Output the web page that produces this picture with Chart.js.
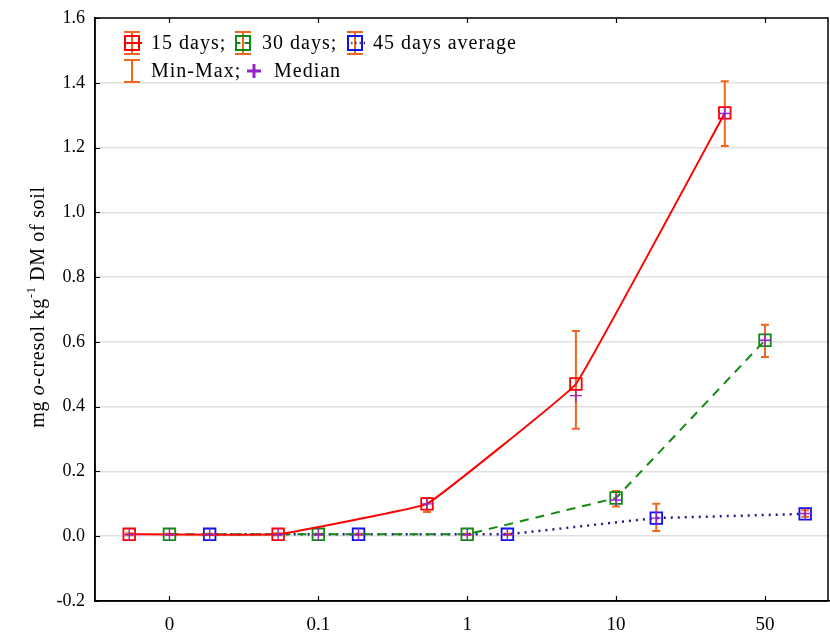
<!DOCTYPE html>
<html>
<head>
<meta charset="utf-8">
<script src="https://cdn.jsdelivr.net/npm/chart.js@4"></script>
<style>
  body { margin: 0; background: #fff; }
  canvas { display: block; }
</style>
</head>
<body>
<canvas id="myChart" width="830" height="637"></canvas>
<script>
const graph = document.querySelector('#myChart');

// dose categories on the x axis
const categories = ['0', '0.1', '1', '10', '50'];
const yTicks = [-0.2, 0.0, 0.2, 0.4, 0.6, 0.8, 1.0, 1.2, 1.4, 1.6];

// 15 days
const mean15 = [0.006, 0.006, 0.100, 0.470, 1.307];
const min15  = [0.003, 0.003, 0.075, 0.332, 1.205];
const max15  = [0.009, 0.009, 0.118, 0.634, 1.405];
const med15  = [0.005, 0.005, 0.100, 0.434, 1.305];

// 30 days
const mean30 = [0.006, 0.006, 0.006, 0.118, 0.605];
const min30  = [0.004, 0.004, 0.004, 0.092, 0.553];
const max30  = [0.008, 0.008, 0.008, 0.140, 0.653];
const med30  = [0.005, 0.005, 0.005, 0.112, 0.605];

// 45 days average
const mean45 = [0.006, 0.006, 0.006, 0.056, 0.069];
const min45  = [0.004, 0.004, 0.004, 0.016, 0.060];
const max45  = [0.008, 0.008, 0.008, 0.100, 0.080];
const med45  = [0.005, 0.005, 0.005, 0.056, 0.070];

const series = [
    { label: '15 days', mean: mean15, min: min15, max: max15, med: med15, color: '#ff0000', mark: '#ff0000', dash: [], width: 2, tension: 0.06, off: -0.27 },
    { label: '30 days', mean: mean30, min: min30, max: max30, med: med30, color: '#108a10', mark: '#108a10', dash: [9, 7], width: 2, tension: 0, off: 0 },
    { label: '45 days average', mean: mean45, min: min45, max: max45, med: med45, color: '#202080', mark: '#1010f0', dash: [2, 5], width: 2.5, tension: 0, off: 0.27 }
];

const ERR = '#f0661a';
const MED = '#9424c8';
const FONT = '"Liberation Serif", "Times New Roman", serif';

const pts = (arr, off) => arr.map((v, i) => ({ x: i + off, y: v }));

const datasets = [];
series.forEach(s => {
    datasets.push({
        label: s.label + ' median',
        data: pts(s.med, s.off),
        showLine: false,
        pointStyle: 'cross',
        pointRadius: 6,
        pointBorderWidth: 1.4,
        pointBorderColor: MED,
        pointHoverRadius: 6
    });
});
series.forEach(s => {
    datasets.push({
        label: s.label,
        data: pts(s.mean, s.off),
        borderColor: s.color,
        borderWidth: s.width,
        borderDash: s.dash,
        tension: s.tension,
        fill: false,
        pointStyle: 'rect',
        pointRadius: 8.2,
        pointBorderWidth: 1.8,
        pointBorderColor: s.mark,
        pointBackgroundColor: 'rgba(255,255,255,0)',
        pointHoverRadius: 8.2
    });
});

// min-max whiskers
const errorBars = {
    id: 'errorBars',
    beforeDatasetsDraw(chart) {
        const { ctx, scales: { x, y } } = chart;
        ctx.save();
        ctx.strokeStyle = ERR;
        ctx.lineWidth = 2;
        series.forEach(s => {
            s.mean.forEach((v, i) => {
                const px = x.getPixelForValue(i + s.off);
                const y1 = y.getPixelForValue(s.min[i]);
                const y2 = y.getPixelForValue(s.max[i]);
                ctx.beginPath();
                ctx.moveTo(px, y1); ctx.lineTo(px, y2);
                ctx.moveTo(px - 4, y1); ctx.lineTo(px + 4, y1);
                ctx.moveTo(px - 4, y2); ctx.lineTo(px + 4, y2);
                ctx.stroke();
            });
        });
        ctx.restore();
    }
};

// box around plot + inward tick marks
const frame = {
    id: 'frame',
    afterDatasetsDraw(chart) {
        const { ctx, chartArea: a, scales: { x, y } } = chart;
        ctx.save();
        ctx.strokeStyle = '#000';
        ctx.lineWidth = 1.5;
        ctx.beginPath();
        ctx.rect(a.left, a.top, a.right - a.left - 1, a.bottom - a.top);
        ctx.stroke();
        ctx.lineWidth = 1.2;
        ctx.beginPath();
        categories.forEach((c, i) => {
            const px = Math.round(x.getPixelForValue(i)) + 0.5;
            ctx.moveTo(px, a.bottom); ctx.lineTo(px, a.bottom - 5);
            ctx.moveTo(px, a.top); ctx.lineTo(px, a.top + 5);
        });
        yTicks.forEach(v => {
            const py = Math.round(y.getPixelForValue(v)) + 0.5;
            ctx.moveTo(a.left, py); ctx.lineTo(a.left + 5, py);
        });
        ctx.stroke();
        ctx.restore();
    }
};

// y title with italic o and superscript -1
const yTitle = {
    id: 'yTitle',
    afterDraw(chart) {
        const { ctx } = chart;
        const parts = [
            { t: 'mg ', f: '20px ' + FONT, dy: 0 },
            { t: 'o', f: 'italic 20px ' + FONT, dy: 0 },
            { t: '-cresol kg', f: '20px ' + FONT, dy: 0 },
            { t: '-1', f: '12px ' + FONT, dy: -9 },
            { t: ' DM of soil', f: '20px ' + FONT, dy: 0 }
        ];
        ctx.save();
        ctx.letterSpacing = '0.7px';
        let total = 0;
        parts.forEach(p => { ctx.font = p.f; total += ctx.measureText(p.t).width; });
        ctx.translate(44, 307);
        ctx.rotate(-Math.PI / 2);
        ctx.fillStyle = '#000';
        ctx.textBaseline = 'alphabetic';
        let cx = -total / 2;
        parts.forEach(p => {
            ctx.font = p.f;
            ctx.fillText(p.t, cx, p.dy);
            cx += ctx.measureText(p.t).width;
        });
        ctx.restore();
    }
};

// legend drawn inside the plot
const legendBox = {
    id: 'legendBox',
    afterDraw(chart) {
        const { ctx } = chart;
        const whisker = (cx, cy) => {
            ctx.strokeStyle = ERR;
            ctx.lineWidth = 2;
            ctx.setLineDash([]);
            ctx.beginPath();
            ctx.moveTo(cx, cy - 11); ctx.lineTo(cx, cy + 11);
            ctx.moveTo(cx - 8, cy - 11); ctx.lineTo(cx + 8, cy - 11);
            ctx.moveTo(cx - 8, cy + 11); ctx.lineTo(cx + 8, cy + 11);
            ctx.stroke();
        };
        const text = (t, x0, cy) => {
            ctx.fillStyle = '#000';
            ctx.font = '20px ' + FONT;
            ctx.letterSpacing = '1px';
            ctx.textBaseline = 'middle';
            ctx.fillText(t, x0, cy + 1);
        };
        ctx.save();
        const row1 = 43, row2 = 71;
        const mx = [132, 243, 355];
        const tx = [151, 262, 373];
        const names = ['15 days;', '30 days;', '45 days average'];
        series.forEach((s, k) => {
            whisker(mx[k], row1);
            ctx.strokeStyle = s.color;
            ctx.lineWidth = s.width;
            ctx.setLineDash(s.dash.length ? s.dash.map(d => d * 0.6) : []);
            ctx.beginPath();
            ctx.moveTo(mx[k] - 8, row1); ctx.lineTo(mx[k] + 10, row1);
            ctx.stroke();
            ctx.setLineDash([]);
            ctx.lineWidth = 2;
            ctx.strokeStyle = s.mark;
            ctx.strokeRect(mx[k] - 7, row1 - 7, 14, 14);
            text(names[k], tx[k], row1);
        });
        whisker(132, row2);
        text('Min-Max;', 151, row2);
        ctx.strokeStyle = MED;
        ctx.lineWidth = 3;
        ctx.beginPath();
        ctx.moveTo(254, row2 - 7); ctx.lineTo(254, row2 + 7);
        ctx.moveTo(247, row2); ctx.lineTo(261, row2);
        ctx.stroke();
        text('Median', 274, row2);
        ctx.restore();
    }
};

const chart = new Chart(graph, {
    type: 'line',
    data: { datasets },
    options: {
        responsive: false,
        animation: false,
        events: [],
        layout: { autoPadding: false, padding: { top: 18, right: 1, left: 0, bottom: 0 } },
        plugins: {
            legend: { display: false },
            tooltip: { enabled: false }
        },
        scales: {
            x: {
                type: 'linear',
                min: -0.5,
                max: 4.43,
                afterBuildTicks: s => { s.ticks = categories.map((c, i) => ({ value: i })); },
                afterFit: s => { s.height = 36; s.paddingLeft = 0; s.paddingRight = 0; },
                grid: { display: false, drawTicks: false },
                border: { display: true, color: '#000', width: 1.5 },
                ticks: {
                    autoSkip: false,
                    maxRotation: 0,
                    padding: 13,
                    color: '#000',
                    font: { family: FONT, size: 19 },
                    callback: v => categories[v]
                }
            },
            y: {
                min: -0.2,
                max: 1.6,
                afterBuildTicks: s => { s.ticks = yTicks.map(v => ({ value: v })); },
                afterFit: s => { s.width = 95; s.paddingTop = 0; s.paddingBottom = 0; },
                grid: { color: '#e0e0e0', lineWidth: 1.5, drawTicks: false },
                border: { display: true, color: '#000', width: 1.5 },
                ticks: {
                    padding: 10,
                    color: '#000',
                    font: { family: FONT, size: 18 },
                    callback: v => v.toFixed(1)
                }
            }
        }
    },
    plugins: [errorBars, frame, yTitle, legendBox]
});
</script>
</body>
</html>
